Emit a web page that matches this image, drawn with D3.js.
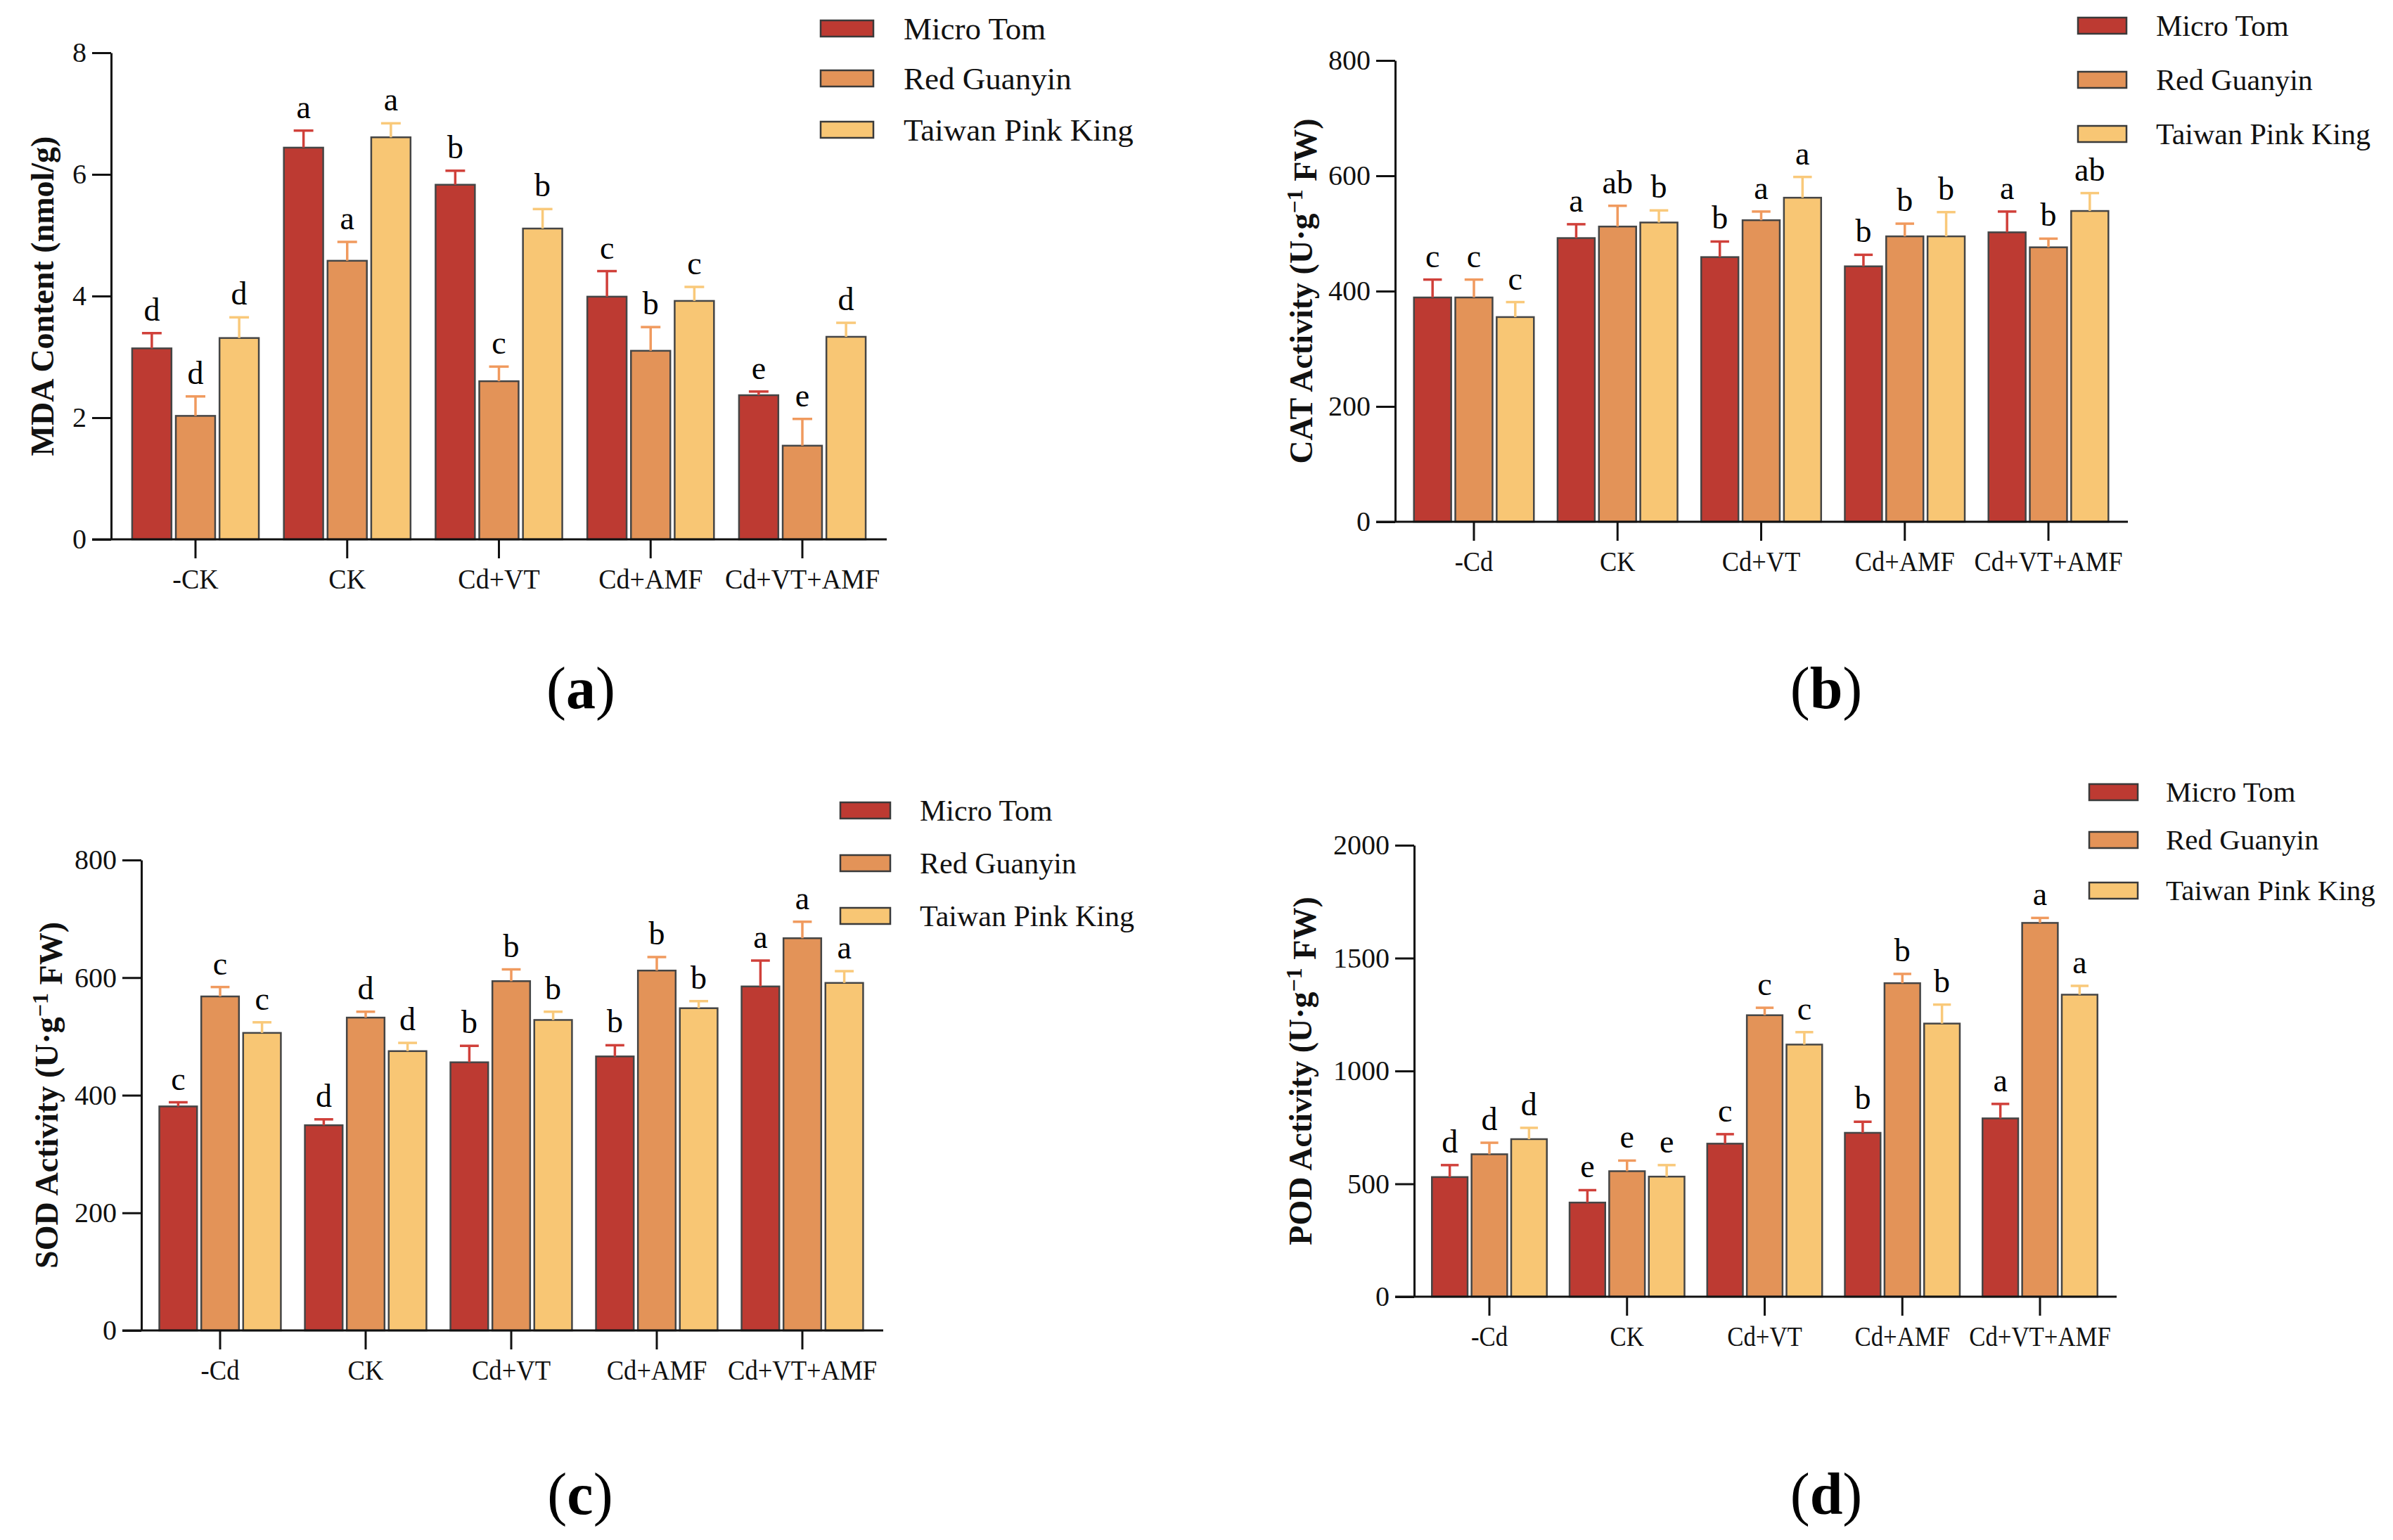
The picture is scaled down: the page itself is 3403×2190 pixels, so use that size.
<!DOCTYPE html>
<html>
<head>
<meta charset="utf-8">
<script src="https://cdn.jsdelivr.net/npm/d3@7"></script>
<style>
  html, body { margin: 0; padding: 0; background: #fff; }
  svg { display: block; }
</style>
</head>
<body>
<div id="chart"></div>
<script>
// series + categories
const seriesNames = ['Micro Tom', 'Red Guanyin', 'Taiwan Pink King'];
const catsMDA = ['-CK', 'CK', 'Cd+VT', 'Cd+AMF', 'Cd+VT+AMF'];
const catsEnz = ['-Cd', 'CK', 'Cd+VT', 'Cd+AMF', 'Cd+VT+AMF'];

// (a) MDA, one row per series
const mdaMean = [[3.14, 6.44, 5.83, 3.99, 2.37], [2.03, 4.58, 2.60, 3.10, 1.54], [3.31, 6.61, 5.11, 3.92, 3.33]];
const mdaSd = [[0.25, 0.28, 0.23, 0.42, 0.06], [0.32, 0.31, 0.24, 0.39, 0.44], [0.34, 0.23, 0.32, 0.23, 0.23]];
const mdaSig = [['d', 'a', 'b', 'c', 'e'], ['d', 'a', 'c', 'b', 'e'], ['d', 'a', 'b', 'c', 'd']];
const mdaTicks = [0, 2, 4, 6, 8];

// (b) CAT
const catMean = [[389, 492, 459, 443, 502], [389, 512, 523, 495, 476], [355, 519, 562, 495, 539]];
const catSd = [[31, 24, 27, 20, 36], [31, 36, 15, 22, 15], [26, 21, 36, 42, 31]];
const catSig = [['c', 'a', 'b', 'b', 'a'], ['c', 'ab', 'a', 'b', 'b'], ['c', 'b', 'a', 'b', 'ab']];
const catTicks = [0, 200, 400, 600, 800];

// (c) SOD
const sodMean = [[381, 349, 456, 466, 585], [568, 532, 594, 612, 667], [506, 475, 528, 548, 591]];
const sodSd = [[7, 10, 28, 19, 44], [16, 10, 20, 23, 28], [18, 14, 14, 12, 20]];
const sodSig = [['c', 'd', 'b', 'b', 'a'], ['c', 'd', 'b', 'b', 'a'], ['c', 'd', 'b', 'b', 'a']];
const sodTicks = [0, 200, 400, 600, 800];

// (d) POD
const podMean = [[530, 417, 678, 726, 790], [631, 556, 1247, 1389, 1656], [698, 532, 1117, 1210, 1338]];
const podSd = [[53, 55, 42, 49, 64], [51, 47, 33, 41, 22], [50, 51, 55, 84, 39]];
const podSig = [['d', 'e', 'c', 'b', 'a'], ['d', 'e', 'c', 'b', 'a'], ['d', 'e', 'c', 'b', 'a']];
const podTicks = [0, 500, 1000, 1500, 2000];

const FILL = ['#bd3a32', '#e39358', '#f8c674'];
const ERR = ['#d0403a', '#f09a5e', '#f9c97a'];
const FONT = '"Liberation Serif", "Times New Roman", serif';

const W = 3403, H = 2190;
const svg = d3.select('#chart').append('svg')
  .attr('width', W).attr('height', H)
  .attr('viewBox', `0 0 ${W} ${H}`);
svg.append('rect').attr('width', W).attr('height', H).attr('fill', '#fff');

function panel(cfg) {
  const g = svg.append('g');
  const x0 = d3.scaleBand()
    .domain(cfg.cats)
    .range([cfg.first - cfg.step / 2, cfg.first + cfg.step * 4.5])
    .paddingInner(0.165).paddingOuter(0.0825);
  const x1 = d3.scaleBand().domain(seriesNames).range([0, x0.bandwidth()]).paddingInner(0.1);
  const y = d3.scaleLinear().domain([0, cfg.ticks[cfg.ticks.length - 1]]).range([cfg.y0, cfg.yTop]);

  // flatten rows
  const rows = [];
  seriesNames.forEach((s, si) => {
    cfg.cats.forEach((c, ci) => {
      rows.push({ s, si, c, v: cfg.mean[si][ci], sd: cfg.sd[si][ci], sig: cfg.sig[si][ci] });
    });
  });

  const bx = (d) => x0(d.c) + x1(d.s);
  const bw = x1.bandwidth();

  g.selectAll('rect.bar').data(rows).enter().append('rect')
    .attr('class', 'bar')
    .attr('x', bx)
    .attr('y', (d) => y(d.v))
    .attr('width', bw)
    .attr('height', (d) => y(0) - y(d.v))
    .attr('fill', (d) => FILL[d.si])
    .attr('stroke', '#454545').attr('stroke-width', 2.5);

  // error bars (upper only)
  const eb = g.selectAll('g.err').data(rows).enter().append('g').attr('class', 'err')
    .attr('stroke', (d) => ERR[d.si]).attr('stroke-width', 3.5);
  eb.append('line')
    .attr('x1', (d) => bx(d) + bw / 2).attr('x2', (d) => bx(d) + bw / 2)
    .attr('y1', (d) => y(d.v)).attr('y2', (d) => y(d.v + d.sd));
  eb.append('line')
    .attr('x1', (d) => bx(d) + bw * 0.25).attr('x2', (d) => bx(d) + bw * 0.75)
    .attr('y1', (d) => y(d.v + d.sd)).attr('y2', (d) => y(d.v + d.sd));

  g.selectAll('text.sig').data(rows).enter().append('text')
    .attr('class', 'sig')
    .attr('x', (d) => bx(d) + bw / 2)
    .attr('y', (d) => y(d.v + d.sd) - 18)
    .attr('text-anchor', 'middle')
    .attr('font-family', FONT).attr('font-size', 46)
    .text((d) => d.sig);

  // y axis
  const ya = g.append('g').attr('transform', `translate(${cfg.axisX},0)`)
    .call(d3.axisLeft(y).tickValues(cfg.ticks).tickFormat(d3.format('d'))
      .tickSize(27).tickSizeOuter(0).tickPadding(8));
  ya.selectAll('path, line').attr('stroke', '#111').attr('stroke-width', 3);
  ya.selectAll('text').attr('font-family', FONT).attr('font-size', 40).attr('fill', '#111');

  // x axis
  const xa = g.append('g').attr('transform', `translate(0,${cfg.y0})`)
    .call(d3.axisBottom(x0).tickSize(27).tickPadding(15));
  xa.select('.domain').remove();
  xa.selectAll('line').attr('stroke', '#111').attr('stroke-width', 3);
  xa.selectAll('text').attr('font-family', FONT).attr('font-size', 40).attr('fill', '#111')
    .attr('transform', `scale(${cfg.xLabScale},1)`);
  g.append('line')
    .attr('x1', cfg.axisX - 27).attr('x2', cfg.axisEnd)
    .attr('y1', cfg.y0).attr('y2', cfg.y0)
    .attr('stroke', '#111').attr('stroke-width', 3);

  // y title
  const t = g.append('text')
    .attr('transform', `translate(${cfg.titleX},${(cfg.y0 + cfg.yTop) / 2}) rotate(-90)`)
    .attr('text-anchor', 'middle').attr('dy', '0.35em')
    .attr('font-family', FONT).attr('font-weight', 'bold').attr('font-size', 46)
    .attr('fill', '#111');
  if (cfg.unit) {
    t.append('tspan').text(cfg.title + ' (U·g');
    t.append('tspan').attr('dy', '-0.45em').attr('font-size', 32).text('\u22121');
    t.append('tspan').attr('dy', '0.45em').text(' FW)');
  } else {
    t.text(cfg.title);
  }

  // legend
  const lg = g.append('g');
  seriesNames.forEach((s, i) => {
    const ly = cfg.legY[i];
    lg.append('rect')
      .attr('x', cfg.legX).attr('y', ly - 11).attr('width', cfg.legW).attr('height', 23)
      .attr('fill', FILL[i]).attr('stroke', '#3a3a3a').attr('stroke-width', 2.5);
    lg.append('text')
      .attr('x', cfg.legTextX).attr('y', ly).attr('dy', '0.35em')
      .attr('font-family', FONT).attr('font-size', cfg.legFont).attr('fill', '#111')
      .text(s);
  });

  // panel label
  const pl = g.append('text')
    .attr('x', cfg.labX).attr('y', cfg.labY)
    .attr('text-anchor', 'middle')
    .attr('font-family', FONT).attr('font-size', 84).attr('fill', '#000');
  pl.append('tspan').text('(');
  pl.append('tspan').attr('font-weight', 'bold').text(cfg.label);
  pl.append('tspan').text(')');
}

panel({
  cats: catsMDA, mean: mdaMean, sd: mdaSd, sig: mdaSig, ticks: mdaTicks,
  axisX: 158, y0: 767, yTop: 75, first: 278, step: 215.75, axisEnd: 1261, xLabScale: 0.95,
  title: 'MDA Content (nmol/g)', unit: false, titleX: 60,
  legX: 1167, legW: 75, legTextX: 1285, legFont: 45, legY: [40, 111, 184],
  label: 'a', labX: 826, labY: 1007
});
panel({
  cats: catsEnz, mean: catMean, sd: catSd, sig: catSig, ticks: catTicks,
  axisX: 1984, y0: 742, yTop: 86, first: 2096, step: 204.25, axisEnd: 3026, xLabScale: 0.91,
  title: 'CAT Activity', unit: true, titleX: 1850,
  legX: 2955, legW: 69, legTextX: 3066, legFont: 42, legY: [36, 113, 190],
  label: 'b', labX: 2597, labY: 1007
});
panel({
  cats: catsEnz, mean: sodMean, sd: sodSd, sig: sodSig, ticks: sodTicks,
  axisX: 201, y0: 1892, yTop: 1223, first: 313, step: 207, axisEnd: 1256, xLabScale: 0.915,
  title: 'SOD Activity', unit: true, titleX: 66,
  legX: 1195, legW: 71, legTextX: 1308, legFont: 42, legY: [1152, 1227, 1302],
  label: 'c', labX: 825, labY: 2153
});
panel({
  cats: catsEnz, mean: podMean, sd: podSd, sig: podSig, ticks: podTicks,
  axisX: 2011, y0: 1844, yTop: 1202, first: 2118, step: 195.75, axisEnd: 3010, xLabScale: 0.87,
  title: 'POD Activity', unit: true, titleX: 1849,
  legX: 2971, legW: 69, legTextX: 3080, legFont: 41, legY: [1126, 1194, 1266],
  label: 'd', labX: 2597, labY: 2153
});
</script>
</body>
</html>
